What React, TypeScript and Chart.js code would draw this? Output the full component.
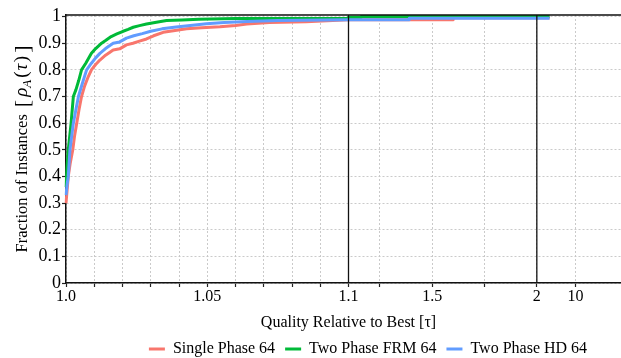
import React, { useEffect, useRef } from 'react';
import { Chart, LinearScale, registerables } from 'chart.js';

Chart.register(...registerables);

// ---------------- data ----------------
const SERIES_LABELS = ['Single Phase 64', 'Two Phase FRM 64', 'Two Phase HD 64'];
const SERIES_COLORS = ['#F8766D', '#00BA38', '#619CFF'];

// performance-profile polylines: tau (x) and fraction rho (y)
const SINGLE_TAU = [1.0, 1.0004, 1.0008, 1.0015, 1.0024, 1.003, 1.0038, 1.0046, 1.0055, 1.0066, 1.0079, 1.009, 1.0105, 1.012, 1.014, 1.0167, 1.019, 1.0214, 1.0237, 1.026, 1.0285, 1.031, 1.0344, 1.038, 1.0427, 1.048, 1.0545, 1.06, 1.064, 1.072, 1.085, 1.1, 1.6, 1.6, 3.4];
const SINGLE_RHO = [0.30, 0.35, 0.40, 0.45, 0.50, 0.55, 0.60, 0.65, 0.70, 0.74, 0.775, 0.80, 0.82, 0.837, 0.855, 0.875, 0.879, 0.894, 0.90, 0.908, 0.916, 0.928, 0.941, 0.947, 0.954, 0.958, 0.962, 0.967, 0.972, 0.9775, 0.981, 0.988, 0.988, 0.996, 0.996];

const FRM_TAU = [1.0, 1.0004, 1.0008, 1.0018, 1.0026, 1.0035, 1.0045, 1.0055, 1.007, 1.009, 1.0105, 1.0126, 1.014, 1.016, 1.018, 1.02, 1.022, 1.0238, 1.026, 1.0285, 1.032, 1.0356, 1.041, 1.047, 1.06, 1.1, 1.1, 1.16, 1.16, 3.4];
const FRM_RHO = [0.36, 0.44, 0.50, 0.60, 0.70, 0.725, 0.76, 0.80, 0.825, 0.862, 0.88, 0.90, 0.91, 0.925, 0.935, 0.944, 0.952, 0.96, 0.966, 0.9725, 0.979, 0.985, 0.987, 0.99, 0.9925, 0.9925, 0.998, 0.998, 1.0, 1.0];

const HD_TAU = [1.0, 1.0004, 1.0008, 1.0014, 1.002, 1.0026, 1.0035, 1.0044, 1.0058, 1.0073, 1.009, 1.0105, 1.012, 1.014, 1.0167, 1.019, 1.0214, 1.024, 1.027, 1.03, 1.034, 1.039, 1.044, 1.0497, 1.056, 1.064, 1.075, 1.1, 1.39, 1.39, 3.4];
const HD_RHO = [0.33, 0.37, 0.40, 0.50, 0.55, 0.60, 0.65, 0.70, 0.75, 0.80, 0.825, 0.845, 0.862, 0.88, 0.90, 0.905, 0.919, 0.928, 0.936, 0.945, 0.954, 0.961, 0.967, 0.973, 0.978, 0.982, 0.985, 0.988, 0.988, 0.994, 0.994];

// x axis: piecewise (linear 1.0-1.1, linear 1.1-2, log 2-100)
const X_BREAKS = [1.0, 1.1, 2, 100];
const X_BREAK_UNITS = [0, 3, 5, 6];
const X_MINOR_TICKS = [1.0, 1.01, 1.02, 1.03, 1.04, 1.05, 1.06, 1.07, 1.08, 1.09, 1.1, 1.25, 1.5, 1.75, 2, 10];
const X_LABELED = [1.0, 1.05, 1.1, 1.5, 2, 10];
const X_LABEL_TEXT = ['1.0', '1.05', '1.1', '1.5', '2', '10'];
const X_SEPARATORS = [1.1, 2];

const Y_TICKS = [0, 0.1, 0.2, 0.3, 0.4, 0.5, 0.6, 0.7, 0.8, 0.9, 1];
const Y_TICK_LABELS = ['0', '0.1', '0.2', '0.3', '0.4', '0.5', '0.6', '0.7', '0.8', '0.9', '1'];

const X_TITLE = 'Quality Relative to Best [τ]';
const FONT = 'Liberation Serif';

function tauToU(t: number): number {
  if (t <= X_BREAKS[1]) {
    return X_BREAK_UNITS[0] + ((t - X_BREAKS[0]) / (X_BREAKS[1] - X_BREAKS[0])) * (X_BREAK_UNITS[1] - X_BREAK_UNITS[0]);
  }
  if (t <= X_BREAKS[2]) {
    return X_BREAK_UNITS[1] + ((t - X_BREAKS[1]) / (X_BREAKS[2] - X_BREAKS[1])) * (X_BREAK_UNITS[2] - X_BREAK_UNITS[1]);
  }
  return X_BREAK_UNITS[2] + (Math.log10(t / X_BREAKS[2]) / Math.log10(X_BREAKS[3] / X_BREAKS[2])) * (X_BREAK_UNITS[3] - X_BREAK_UNITS[2]);
}
function uToTau(u: number): number {
  if (u <= X_BREAK_UNITS[1]) return X_BREAKS[0] + (u / 3) * (X_BREAKS[1] - X_BREAKS[0]);
  if (u <= X_BREAK_UNITS[2]) return X_BREAKS[1] + ((u - 3) / 2) * (X_BREAKS[2] - X_BREAKS[1]);
  return X_BREAKS[2] * Math.pow(X_BREAKS[3] / X_BREAKS[2], u - 5);
}

class PiecewiseScale extends (LinearScale as any) {
  static id = 'piecewise';
  static defaults = {};
  determineDataLimits() {
    (this as any).min = X_BREAK_UNITS[0];
    (this as any).max = X_BREAK_UNITS[3];
  }
  buildTicks() {
    return X_MINOR_TICKS.map((v) => ({ value: v }));
  }
  getPixelForValue(v: number) {
    return super.getPixelForValue(tauToU(v));
  }
  getValueForPixel(p: number) {
    return uToTau(super.getValueForPixel(p));
  }
}
Chart.register(PiecewiseScale as any);

const yTitlePlugin = {
  id: 'yTitle',
  afterDraw(chart: any) {
    const { ctx, chartArea } = chart;
    const cy = (chartArea.top + chartArea.bottom) / 2;
    const parts = [
      { t: 'Fraction of Instances', f: `16.5px "${FONT}"`, dy: 0, gap: 7 },
      { t: '[', f: `22px "${FONT}"`, dy: 1.5, gap: 3 },
      { t: 'ρ', f: `italic 19px "${FONT}"`, dy: 0, gap: 0 },
      { t: 'A', f: `italic 13px "${FONT}"`, dy: 4, gap: 2 },
      { t: '(', f: `19px "${FONT}"`, dy: 0, gap: 1 },
      { t: 'τ', f: `italic 19px "${FONT}"`, dy: 0, gap: 1.5 },
      { t: ')', f: `19px "${FONT}"`, dy: 0, gap: 3 },
      { t: ']', f: `22px "${FONT}"`, dy: 1.5, gap: 0 },
    ];
    ctx.save();
    ctx.fillStyle = '#000';
    ctx.textBaseline = 'alphabetic';
    ctx.textAlign = 'left';
    const widths = parts.map((p) => {
      ctx.font = p.f;
      return ctx.measureText(p.t).width + p.gap;
    });
    const total = widths.reduce((a, b) => a + b, 0);
    ctx.translate(27, cy);
    ctx.rotate(-Math.PI / 2);
    let x = -total / 2;
    parts.forEach((p, i) => {
      ctx.font = p.f;
      ctx.fillText(p.t, x, p.dy);
      x += widths[i];
    });
    ctx.restore();
  },
};

const framePlugin = {
  id: 'frame',
  afterDatasetsDraw(chart: any) {
    const { ctx, chartArea: a, scales } = chart;
    ctx.save();
    ctx.strokeStyle = '#111';
    ctx.lineWidth = 1.5;
    ctx.beginPath();
    ctx.moveTo(a.left, a.top);
    ctx.lineTo(a.right, a.top);
    ctx.lineTo(a.right, a.bottom);
    ctx.stroke();
    ctx.lineWidth = 1.3;
    X_SEPARATORS.forEach((v) => {
      const px = scales.x.getPixelForValue(v);
      ctx.beginPath();
      ctx.moveTo(px, a.top);
      ctx.lineTo(px, a.bottom);
      ctx.stroke();
    });
    ctx.restore();
  },
};

function toPoints(tau: number[], rho: number[]) {
  return tau.map((t, i) => ({ x: t, y: rho[i] }));
}

export default function App() {
  const canvasRef = useRef<HTMLCanvasElement | null>(null);

  useEffect(() => {
    const canvas = canvasRef.current;
    if (!canvas) return;
    const series = [
      { label: SERIES_LABELS[0], color: SERIES_COLORS[0], data: toPoints(SINGLE_TAU, SINGLE_RHO) },
      { label: SERIES_LABELS[1], color: SERIES_COLORS[1], data: toPoints(FRM_TAU, FRM_RHO) },
      { label: SERIES_LABELS[2], color: SERIES_COLORS[2], data: toPoints(HD_TAU, HD_RHO) },
    ];
    // reversed so that the last series is drawn on top; legend is reversed back
    const datasets = series
      .map((s) => ({
        label: s.label,
        data: s.data,
        borderColor: s.color,
        backgroundColor: s.color,
        borderWidth: 3,
        pointRadius: 0,
        pointHoverRadius: 0,
        fill: false,
        tension: 0,
        borderJoinStyle: 'round',
      }))
      .reverse();

    const gridOpts = {
      color: '#c4c4c4',
      lineWidth: 0.9,
      tickColor: '#222',
      tickLength: 4,
      tickWidth: 1.2,
      tickBorderDash: [],
    };

    const chart = new Chart(canvas, {
      type: 'line',
      data: { datasets },
      options: {
        animation: false,
        responsive: false,
        maintainAspectRatio: false,
        events: [],
        layout: { padding: { top: 15, left: 0, right: 0, bottom: 0 } },
        plugins: {
          tooltip: { enabled: false },
          legend: {
            position: 'bottom',
            reverse: true,
            labels: {
              usePointStyle: true,
              pointStyle: 'line',
              pointStyleWidth: 16,
              boxHeight: 16,
              padding: 10,
              color: '#000',
              font: { family: FONT, size: 16 },
            },
          },
        },
        scales: {
          x: {
            type: 'piecewise' as any,
            position: 'bottom',
            afterFit: (s: any) => {
              s.height = 48;
            },
            ticks: {
              autoSkip: false,
              maxRotation: 0,
              minRotation: 0,
              padding: 0,
              color: '#000',
              font: { family: FONT, size: 16 },
              callback: (v: any) => {
                const i = X_LABELED.findIndex((l) => Math.abs(l - Number(v)) < 1e-9);
                return i >= 0 ? X_LABEL_TEXT[i] : '';
              },
            },
            grid: gridOpts,
            border: { display: true, color: '#111', width: 1.5, dash: [2, 2] },
            title: {
              display: true,
              text: X_TITLE,
              color: '#000',
              font: { family: FONT, size: 16, lineHeight: 1 },
              padding: { top: 0, bottom: 0 },
            },
          } as any,
          y: {
            type: 'linear',
            position: 'left',
            min: 0,
            max: 1.006,
            afterFit: (s: any) => {
              s.width = 66;
            },
            afterBuildTicks: (s: any) => {
              s.ticks = Y_TICKS.map((v) => ({ value: v }));
            },
            ticks: {
              autoSkip: false,
              padding: 1,
              color: '#000',
              font: { family: FONT, size: 18 },
              callback: (v: any) => {
                const i = Y_TICKS.findIndex((t) => Math.abs(t - Number(v)) < 1e-9);
                return i >= 0 ? Y_TICK_LABELS[i] : '';
              },
            },
            grid: gridOpts,
            border: { display: true, color: '#111', width: 1.5, dash: [2, 2] },
          },
          yR: {
            type: 'linear',
            position: 'right',
            display: true,
            afterFit: (s: any) => {
              s.width = 105;
            },
            ticks: { display: false },
            grid: { display: false, drawTicks: false },
            border: { display: false },
          },
        },
      },
      plugins: [yTitlePlugin, framePlugin],
    } as any);

    return () => {
      chart.destroy();
    };
  }, []);

  return (
    <div
      style={{
        position: 'fixed',
        left: 0,
        top: 0,
        width: '100vw',
        height: '100vh',
        overflow: 'hidden',
        background: '#fff',
      }}
    >
      <canvas ref={canvasRef} width={736} height={367} style={{ display: 'block', width: 736, height: 367 }} />
    </div>
  );
}
